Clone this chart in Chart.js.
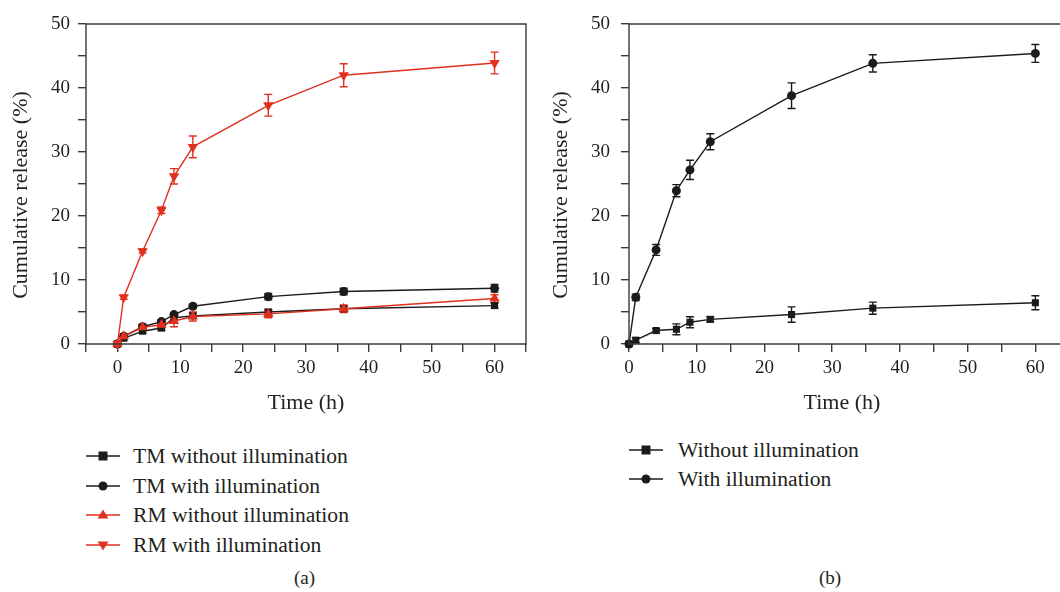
<!DOCTYPE html>
<html>
<head>
<meta charset="utf-8">
<script src="https://cdn.jsdelivr.net/npm/chart.js@4.4.1/dist/chart.umd.min.js"></script>
<style>
  html, body { margin: 0; padding: 0; background: #fff; overflow: hidden; }
  body { width: 1060px; height: 592px; position: relative; font-family: "Liberation Serif", serif; color: #231f20; }
  canvas { position: absolute; top: 0; }
  #c1 { left: 0; }
  #c2 { left: 540px; }
  .legend { position: absolute; font-size: 21.6px; }
  .legend .row { position: absolute; left: 0; height: 30px; width: 330px; }
  .legend svg { position: absolute; left: 0; top: 0; }
  .legend span { position: absolute; top: 0; line-height: 30px; white-space: nowrap; }
  .caption { position: absolute; top: 567px; font-size: 19px; }
</style>
</head>
<body>
<canvas id="c1" width="540" height="420"></canvas>
<canvas id="c2" width="520" height="420"></canvas>

<div class="legend" id="legA" style="left:86px;top:441px"></div>
<div class="legend" id="legB" style="left:629px;top:435px"></div>

<div class="caption" style="left:294px">(a)</div>
<div class="caption" style="left:819px">(b)</div>

<script>
// ---- data ----
const times = [0, 1, 4, 7, 9, 12, 24, 36, 60];

// panel (a)
const tmWithout    = [0, 0.9, 2.0, 2.5, 4.1, 4.4, 5.0, 5.5, 6.0];
const tmWithoutErr = [0, 0.3, 0.3, 0.4, 0.3, 0.4, 0.4, 0.4, 0.4];
const tmWith       = [0, 1.2, 2.7, 3.5, 4.6, 5.9, 7.4, 8.2, 8.7];
const tmWithErr    = [0, 0.3, 0.3, 0.3, 0.3, 0.3, 0.5, 0.5, 0.6];
const rmWithout    = [0, 1.2, 2.6, 3.0, 3.6, 4.3, 4.7, 5.5, 7.1];
const rmWithoutErr = [0, 0.4, 0.5, 0.5, 0.9, 0.7, 0.6, 0.6, 0.6];
const rmWith       = [0, 7.3, 14.5, 20.9, 26.2, 30.8, 37.3, 42.0, 43.9];
const rmWithErr    = [0, 0.3, 0.3, 0.5, 1.2, 1.7, 1.7, 1.8, 1.7];

// panel (b)
const bWithout    = [0, 0.6, 2.1, 2.3, 3.4, 3.85, 4.6, 5.6, 6.45];
const bWithoutErr = [0.3, 0.4, 0.3, 0.85, 0.85, 0.4, 1.2, 0.95, 1.1];
const bWith       = [0, 7.3, 14.7, 23.95, 27.2, 31.6, 38.8, 43.85, 45.4];
const bWithErr    = [0.3, 0.5, 0.85, 0.95, 1.5, 1.25, 2.0, 1.35, 1.4];

const yTicks = [0, 10, 20, 30, 40, 50];
const xTicks = [0, 10, 20, 30, 40, 50, 60];

const labelsA = ['TM without illumination', 'TM with illumination', 'RM without illumination', 'RM with illumination'];
const labelsB = ['Without illumination', 'With illumination'];

const BLACK = '#1b1b1b';
const RED = '#e0301f';
const AXIS = '#3a3a3a';
const FONT = 'Liberation Serif';

const pts = (ys) => times.map((t, i) => ({ x: t, y: ys[i] }));

function series(label, ys, errs, color, style, rot, order) {
  return {
    label, data: pts(ys), errors: errs,
    borderColor: color, backgroundColor: color,
    borderWidth: 1.4, pointStyle: style, rotation: rot || 0,
    pointRadius: style === 'rect' ? 5 : (style === 'circle' ? 4.5 : 6),
    pointBorderWidth: 0, tension: 0, clip: false, order
  };
}

// vertical error bars, drawn via the y scale
const errorBars = {
  id: 'errorBars',
  beforeDatasetsDraw(chart) {
    const { ctx } = chart;
    const ys = chart.scales.y;
    chart.data.datasets.forEach((ds, di) => {
      const meta = chart.getDatasetMeta(di);
      ctx.save();
      ctx.strokeStyle = ds.borderColor;
      ctx.lineWidth = 1.4;
      meta.data.forEach((pt, i) => {
        const e = ds.errors[i];
        if (!e) return;
        const v = ds.data[i].y;
        const top = ys.getPixelForValue(v + e);
        const bot = ys.getPixelForValue(v - e);
        ctx.beginPath();
        ctx.moveTo(pt.x, top); ctx.lineTo(pt.x, bot);
        ctx.moveTo(pt.x - 4, top); ctx.lineTo(pt.x + 4, top);
        ctx.moveTo(pt.x - 4, bot); ctx.lineTo(pt.x + 4, bot);
        ctx.stroke();
      });
      ctx.restore();
    });
  }
};

// frame around the plot area; panel b is cut at the page edge, so no right side there
const frame = {
  id: 'frame',
  afterDraw(chart, args, opts) {
    const { ctx, chartArea: a } = chart;
    const r = opts.right ? a.right + 0.7 : chart.width;
    ctx.save();
    ctx.strokeStyle = AXIS;
    ctx.lineWidth = 1.4;
    ctx.beginPath();
    ctx.moveTo(r, a.top);
    ctx.lineTo(a.left, a.top);
    ctx.lineTo(a.left, a.bottom);
    ctx.lineTo(r, a.bottom);
    if (opts.right) { ctx.moveTo(a.right, a.top); ctx.lineTo(a.right, a.bottom); }
    ctx.stroke();
    ctx.restore();
  }
};

function makeChart(id, datasets, xMin, xMax, yAxisWidth, yLabelPad, padRight, rightEdge) {
  return new Chart(document.getElementById(id), {
    type: 'line',
    data: { datasets },
    plugins: [errorBars, frame],
    options: {
      responsive: false, animation: false, devicePixelRatio: 1,
      layout: { padding: { left: 0, top: 24, right: padRight, bottom: 0 } },
      plugins: { legend: { display: false }, tooltip: { enabled: false }, frame: { right: rightEdge } },
      scales: {
        x: {
          type: 'linear', min: xMin, max: xMax,
          afterFit: s => { s.height = 76; },
          border: { display: false },
          grid: { drawOnChartArea: false, drawTicks: true, tickLength: 8, color: AXIS, lineWidth: 1.4 },
          ticks: {
            stepSize: 5, autoSkip: false, maxRotation: 0, padding: 5, includeBounds: false,
            color: '#231f20', font: { family: FONT, size: 19 },
            callback: v => xTicks.includes(v) ? String(v) : ''
          },
          title: { display: true, text: 'Time (h)', color: '#231f20', font: { family: FONT, size: 22 }, padding: { top: 0, bottom: 4 } }
        },
        y: {
          min: 0, max: 50,
          afterFit: s => { s.width = yAxisWidth; },
          border: { display: false },
          grid: { drawOnChartArea: false, drawTicks: true, tickLength: 8, color: AXIS, lineWidth: 1.4 },
          ticks: {
            stepSize: 5, autoSkip: false, padding: yLabelPad,
            color: '#231f20', font: { family: FONT, size: 19 },
            callback: v => yTicks.includes(v) ? String(v) : ''
          },
          title: { display: true, text: 'Cumulative release (%)    ', color: '#231f20', font: { family: FONT, size: 22 }, padding: { top: 8, bottom: 0 } }
        }
      }
    }
  });
}

makeChart('c1', [
  series(labelsA[0], tmWithout, tmWithoutErr, BLACK, 'rect', 0, 3),
  series(labelsA[1], tmWith, tmWithErr, BLACK, 'circle', 0, 2),
  series(labelsA[2], rmWithout, rmWithoutErr, RED, 'triangle', 0, 1),
  series(labelsA[3], rmWith, rmWithErr, RED, 'triangle', 180, 0)
], -5, 65, 86, 8, 14, true);

makeChart('c2', [
  series(labelsB[0], bWithout, bWithoutErr, BLACK, 'rect', 0, 1),
  series(labelsB[1], bWith, bWithErr, BLACK, 'circle', 0, 0)
], 0, 62.9, 89, 11, 0, false);

// legends (line + marker + label)
function marker(style, color) {
  if (style === 'rect') return `<rect x="12.5" y="10.5" width="9" height="9" fill="${color}"/>`;
  if (style === 'circle') return `<circle cx="17" cy="15" r="4.5" fill="${color}"/>`;
  if (style === 'up') return `<polygon points="17,9.5 22.5,18.5 11.5,18.5" fill="${color}"/>`;
  return `<polygon points="17,20.5 22.5,11.5 11.5,11.5" fill="${color}"/>`;
}
function legend(id, labels, styles, colors, rowGap, textLeft) {
  const el = document.getElementById(id);
  el.innerHTML = labels.map((l, i) => `
    <div class="row" style="top:${i * rowGap}px">
      <svg width="34" height="30"><line x1="0" y1="15" x2="34" y2="15" stroke="${colors[i]}" stroke-width="1.6"/>${marker(styles[i], colors[i])}</svg>
      <span style="left:${textLeft}px">${l}</span>
    </div>`).join('');
}
legend('legA', labelsA, ['rect', 'circle', 'up', 'down'], [BLACK, BLACK, RED, RED], 29.5, 47);
legend('legB', labelsB, ['rect', 'circle'], [BLACK, BLACK], 29, 49);
</script>
</body>
</html>
